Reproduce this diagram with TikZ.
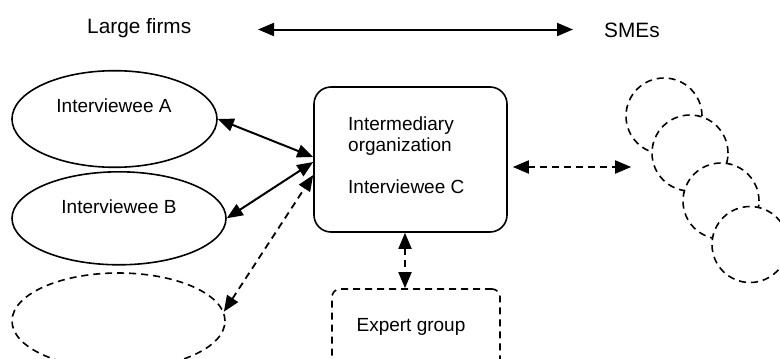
\documentclass[tikz,border=0pt]{standalone}
\usepackage{fontspec}
\setmainfont{Liberation Sans}
\usetikzlibrary{arrows.meta,shapes.geometric}

\tikzset{
  bodytext/.style={inner sep=0pt, font=\fontsize{19pt}{21pt}\selectfont},
  toptext/.style={inner sep=0pt, font=\fontsize{20.8pt}{24pt}\selectfont},
  party/.style={ellipse, draw, line width=1.6pt, inner sep=0pt},
  dashedline/.style={dash pattern=on 7pt off 5pt},
  smecircle/.style={circle, draw, fill=white, line width=1.6pt,
    dash pattern=on 7pt off 5pt, minimum size=76pt, inner sep=0pt},
  solidlink/.style={line width=2pt,
    {Triangle[length=16pt,width=13pt]}-{Triangle[length=16pt,width=13pt]}},
  dashlink/.style={line width=1.8pt, dashedline,
    {Triangle[length=16pt,width=13pt]}-{Triangle[length=16pt,width=13pt]}}
}

\begin{document}
\begin{tikzpicture}[x=1pt,y=-1pt]
\useasboundingbox (0,0) rectangle (780,359);
\clip (0,0) rectangle (780,359);

% scale labels at the top
\node[toptext, anchor=base west] (LF) at (87,33.5) {Large firms};
\node[toptext, anchor=base west] (SM) at (604,37.5) {SMEs};
\coordinate (scaleL) at (258,29.5);
\coordinate (scaleR) at (573,29.5);
\draw[solidlink] (scaleL) -- (scaleR);

% large firms
\node[party, minimum width=205pt, minimum height=96.6pt] (A) at (114.5,119) {};
\node[bodytext, anchor=base] (Atxt) at (114,112) {Interviewee A};
\node[party, minimum width=214pt, minimum height=93pt] (B) at (119,218.3) {};
\node[bodytext, anchor=base] (Btxt) at (119,213) {Interviewee B};
\node[party, dashedline, minimum width=213pt, minimum height=96pt] (D) at (118.5,321) {};

% intermediary
\node[draw, line width=1.6pt, rounded corners=17pt, minimum width=193pt,
      minimum height=145pt, inner sep=0pt] (C) at (410.5,159.5) {};
\node[bodytext, anchor=base west, align=left] (Ctxt) at (348,193)
  {Intermediary\\organization\\[21pt]Interviewee C};

% expert group
\node[draw, line width=1.6pt, dashedline, rounded corners=8pt, minimum width=168pt,
      minimum height=100pt, inner sep=0pt] (E) at (416,339) {};
\node[bodytext, anchor=base] (Etxt) at (411,331) {Expert group};

% SMEs
\node[smecircle] (S1) at (664,116) {};
\node[smecircle] (S2) at (690,153) {};
\node[smecircle] (S3) at (721,201) {};
\node[smecircle] (S4) at (750,244.5) {};

% links
\draw[solidlink] (A.east) -- ([yshift=2.5pt]C.west);
\draw[solidlink] (B.east) -- ([yshift=-2.5pt]C.west);
\draw[dashlink] (D.5) -- ([yshift=-15.5pt]C.west);
\draw[dashlink, shorten <=5pt, shorten >=20pt]
  ([yshift=-7.5pt]C.east) -- ([yshift=-7.5pt]C.east -| S2.west);
\draw[dashlink] ([xshift=-5.5pt]C.south) -- ([xshift=-5.5pt]C.south |- E.north);
\end{tikzpicture}
\end{document}
